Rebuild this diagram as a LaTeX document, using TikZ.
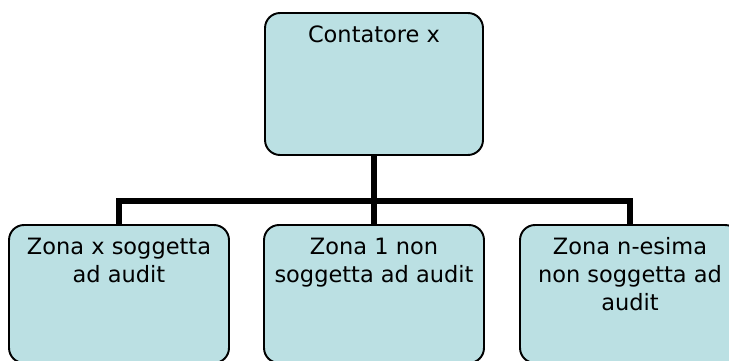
\documentclass[tikz,border=0pt]{standalone}
\usepackage{fontspec}
\setmainfont{DejaVu Sans}
\usepackage{tikz}
\usetikzlibrary{positioning}
\definecolor{boxfill}{RGB}{187,224,227}

\begin{document}
\begin{tikzpicture}[
        x=0.02cm,
        y=-0.02cm,
        box/.style={draw, line width=1.1pt, rounded corners=0.3cm, fill=boxfill, minimum width=4.4cm, inner sep=0pt},
        txt/.style={inner sep=0pt, align=center, font=\fontsize{12.8}{15.9}\selectfont},
        link/.style={line width=3.4pt, line join=miter}
    ]
        \useasboundingbox (0,0) rectangle (729,361);

        % Level 1
        \node[box, minimum width=4.36cm, minimum height=2.84cm] (cont) at (374,84) {};

        % Level 2
        \node[box, minimum height=2.76cm] (zx) at (119,294) {};
        \node[box, minimum height=2.76cm] (z1) at (374,294) {};
        \node[box, minimum height=2.76cm] (zn) at (630,294) {};

        % Texts
        \node[txt, below=7.6pt of cont.north] (contTxt) {Contatore x};
        \node[txt, below=7.6pt of zx.north] (zxTxt) {Zona x soggetta\\ad audit};
        \node[txt, below=7.6pt of z1.north] (z1Txt) {Zona 1 non\\soggetta ad audit};
        \node[txt, below=7.6pt of zn.north] (znTxt) {Zona n-esima\\non soggetta ad\\audit};

        % Connect nodes
        \coordinate (bus) at (374,201);
        \draw[link] (zx.north) |- (bus) -| (zn.north);
        \draw[link] (cont.south) -- (z1.north);
    \end{tikzpicture}
\end{document}
